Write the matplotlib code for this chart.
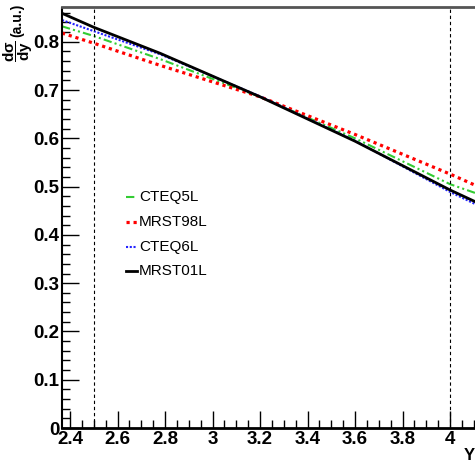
import matplotlib
matplotlib.use("Agg")
import matplotlib.pyplot as plt
from matplotlib.ticker import MultipleLocator
from matplotlib.lines import Line2D
import matplotlib.font_manager as fm

names = {f.name for f in fm.fontManager.ttflist}
fam = ['Liberation Sans Narrow'] if 'Liberation Sans Narrow' in names else ['Liberation Sans']
plt.rcParams['font.family'] = fam + ['DejaVu Sans']
plt.rcParams['mathtext.fontset'] = 'custom'
plt.rcParams['mathtext.rm'] = fam[0] + ':bold'
plt.rcParams['mathtext.it'] = fam[0] + ':bold'
plt.rcParams['mathtext.bf'] = fam[0] + ':bold'

# data
y_rap = [2.366, 2.5, 2.78, 3.2, 3.6, 4.0, 4.105]
cteq5l = [0.832, 0.812, 0.764, 0.686, 0.600, 0.505, 0.487]
mrst98l = [0.818, 0.797, 0.751, 0.686, 0.608, 0.526, 0.503]
cteq6l = [0.845, 0.822, 0.774, 0.687, 0.595, 0.489, 0.464]
mrst01l = [0.859, 0.830, 0.776, 0.686, 0.594, 0.493, 0.469]
cuts = [2.5, 4.0]
labels = ['CTEQ5L', 'MRST98L', 'CTEQ6L', 'MRST01L']

W, H = 475, 461
fig = plt.figure(figsize=(W/100, H/100), dpi=100)
ax = fig.add_axes([62/W, 1-428/H, 1-62/W, (428-7.5)/H])

styles = [
    dict(color='#33cc33', lw=1.5, ls=(0, (4, 1.5, 1, 1.5, 1, 1.5))),
    dict(color='#ff0000', lw=2.3, ls=(0, (1, 1.2))),
    dict(color='#2222ff', lw=1.5, ls=(0, (1, 0.8))),
    dict(color='#000000', lw=2.0, ls='-'),
]
for vals, st in zip([cteq5l, mrst98l, cteq6l, mrst01l], styles):
    ax.plot(y_rap, vals, **st)

for c in cuts:
    ax.axvline(c, color='black', lw=0.8, ls=(0, (3, 2.5)))

ax.set_xlim(2.366, 4.105)
ax.set_ylim(0, 0.871)

ax.xaxis.set_major_locator(MultipleLocator(0.2))
ax.xaxis.set_minor_locator(MultipleLocator(0.05))
ax.yaxis.set_major_locator(MultipleLocator(0.1))
ax.yaxis.set_minor_locator(MultipleLocator(0.02))
ax.tick_params(which='major', direction='in', length=12, width=1.0, pad=2,
               labelsize=13.5, top=False, right=False)
ax.tick_params(which='minor', direction='in', length=6, width=1.0, top=False, right=False)
ax.xaxis.set_major_formatter(matplotlib.ticker.FuncFormatter(lambda v, p: ('%.1f' % v).rstrip('0').rstrip('.') if abs(v - round(v)) > 1e-9 else '%d' % round(v)))
ax.yaxis.set_major_formatter(matplotlib.ticker.FuncFormatter(lambda v, p: '0' if abs(v) < 1e-9 else '%.1f' % v))
for lab in ax.get_xticklabels() + ax.get_yticklabels():
    lab.set_fontweight('bold')

ax.spines['right'].set_visible(False)
ax.spines['top'].set_color('#555555')
ax.spines['top'].set_linewidth(2)
ax.spines['left'].set_linewidth(1.5)
ax.spines['bottom'].set_linewidth(2)

fig.text(17/W, 1-4/H, '(a.u.)', rotation=90, ha='center', va='top',
         fontsize=10, fontweight='bold')
fig.text(18/W, 1-40/H, r'$\dfrac{d\sigma}{dy}$', rotation=90, ha='center', va='top',
         fontsize=11, fontweight='bold')
fig.text(475/W, 1-455/H, 'Y', ha='right', va='center', fontsize=12, fontweight='bold')

leg_y = [197, 222, 247, 271]
for yy, lab, st in zip(leg_y, labels, styles):
    fig.add_artist(Line2D([126/W, 137/W], [1-yy/H, 1-yy/H], transform=fig.transFigure, **st))
    fig.text(139/W, 1-yy/H, lab, ha='left', va='center', fontsize=11)

fig.savefig('out.png', dpi=100)
